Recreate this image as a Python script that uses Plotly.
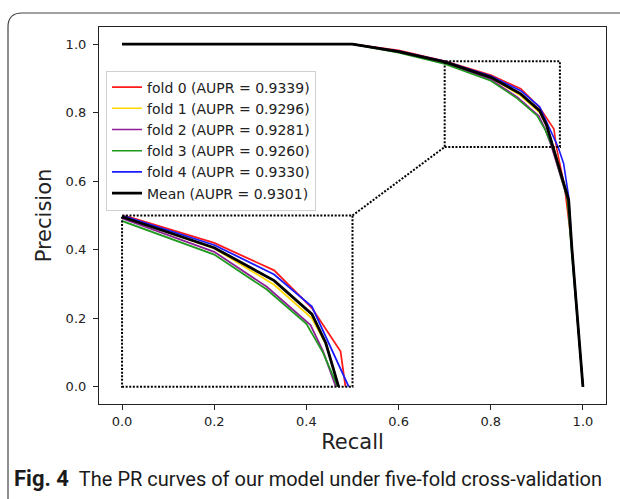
import plotly.graph_objects as go

# ---------------- data ----------------
fold_names = ["fold 0 (AUPR = 0.9339)", "fold 1 (AUPR = 0.9296)", "fold 2 (AUPR = 0.9281)",
              "fold 3 (AUPR = 0.9260)", "fold 4 (AUPR = 0.9330)"]
mean_name = "Mean (AUPR = 0.9301)"

recall_f0 = [0.0, 0.50, 0.60, 0.70, 0.80, 0.865, 0.906, 0.937, 0.9425, 0.960, 0.975, 1.0]
prec_f0 = [1.0, 1.0, 0.982, 0.951, 0.910, 0.870, 0.815, 0.752, 0.699, 0.585, 0.420, 0.0]

recall_f1 = [0.0, 0.50, 0.60, 0.70, 0.80, 0.865, 0.906, 0.922, 0.935, 0.968, 0.976, 1.0]
prec_f1 = [1.0, 1.0, 0.978, 0.948, 0.902, 0.849, 0.800, 0.760, 0.700, 0.550, 0.410, 0.0]

recall_f2 = [0.0, 0.50, 0.60, 0.70, 0.80, 0.857, 0.9045, 0.918, 0.932, 0.967, 0.976, 1.0]
prec_f2 = [1.0, 1.0, 0.977, 0.946, 0.897, 0.846, 0.790, 0.752, 0.700, 0.545, 0.400, 0.0]

recall_f3 = [0.0, 0.50, 0.60, 0.70, 0.80, 0.857, 0.900, 0.918, 0.934, 0.966, 0.975, 1.0]
prec_f3 = [1.0, 1.0, 0.975, 0.942, 0.893, 0.842, 0.792, 0.750, 0.700, 0.550, 0.400, 0.0]

recall_f4 = [0.0, 0.50, 0.60, 0.70, 0.80, 0.865, 0.906, 0.926, 0.946, 0.958, 0.969, 0.976, 1.0]
prec_f4 = [1.0, 1.0, 0.980, 0.950, 0.907, 0.864, 0.817, 0.759, 0.700, 0.652, 0.555, 0.404, 0.0]

recall_mean = [0.0, 0.50, 0.60, 0.70, 0.80, 0.865, 0.906, 0.921, 0.935, 0.969, 0.976, 1.0]
prec_mean = [1.0, 1.0, 0.978, 0.948, 0.903, 0.855, 0.806, 0.764, 0.700, 0.545, 0.404, 0.0]

tick_vals = [0.0, 0.2, 0.4, 0.6, 0.8, 1.0]
tick_text = ["0.0", "0.2", "0.4", "0.6", "0.8", "1.0"]

zoom_x = [0.70, 0.95]       # region magnified
zoom_y = [0.70, 0.95]
inset_x = [0.0, 0.5]        # where the inset sits (data coords of main axes)
inset_y = [0.0, 0.5]

caption_bold = "Fig. 4"
caption_text = "The PR curves of our model under five-fold cross-validation"

# ---------------- styling ----------------
colors = ["#ff1a1a", "#ffd700", "#8e1f96", "#1f9a1f", "#1a1aff"]
W, H = 620, 499
ML, MR, MT, MB = 99, 14, 27, 95
xr = [-0.05, 1.05]
yr = [-0.05, 1.05]

folds_r = [recall_f0, recall_f1, recall_f2, recall_f3, recall_f4]
folds_p = [prec_f0, prec_f1, prec_f2, prec_f3, prec_f4]

fig = go.Figure()

for r, p, c, n in zip(folds_r, folds_p, colors, fold_names):
    fig.add_trace(go.Scatter(x=r, y=p, mode="lines", name=n,
                             line=dict(color=c, width=1.6), xaxis="x", yaxis="y"))
fig.add_trace(go.Scatter(x=recall_mean, y=prec_mean, mode="lines", name=mean_name,
                         line=dict(color="black", width=2.8), xaxis="x", yaxis="y"))

# inset copies
for r, p, c, n in zip(folds_r, folds_p, colors, fold_names):
    fig.add_trace(go.Scatter(x=r, y=p, mode="lines", name=n, showlegend=False,
                             line=dict(color=c, width=1.8), xaxis="x2", yaxis="y2"))
fig.add_trace(go.Scatter(x=recall_mean, y=prec_mean, mode="lines", name=mean_name,
                         showlegend=False, line=dict(color="black", width=2.8),
                         xaxis="x2", yaxis="y2"))

def to_paper(v, rng):
    return (v - rng[0]) / (rng[1] - rng[0])

ix_dom = [to_paper(inset_x[0], xr), to_paper(inset_x[1], xr)]
iy_dom = [to_paper(inset_y[0], yr), to_paper(inset_y[1], yr)]

dot = dict(color="black", width=2, dash="2px,1.6px")
shapes = [
    dict(type="rect", xref="x", yref="y", x0=zoom_x[0], x1=zoom_x[1], y0=zoom_y[0], y1=zoom_y[1],
         line=dot, layer="above"),
    dict(type="rect", xref="x", yref="y", x0=inset_x[0], x1=inset_x[1], y0=inset_y[0], y1=inset_y[1],
         line=dot, layer="above"),
    dict(type="line", xref="x", yref="y", x0=inset_x[1], y0=inset_y[1], x1=zoom_x[0], y1=zoom_y[0],
         line=dot, layer="above"),
]

# outer rounded frame (page decoration), pixel -> paper
def px(xp):
    return (xp - ML) / (W - ML - MR)
def py(yp):
    return (H - MB - yp) / (H - MT - MB)

x0, y0, x1, y1, rad = 8, 13, 640, 512, 14
path = (f"M {px(x0)},{py(y0 + rad)} L {px(x0)},{py(y1 - rad)} "
        f"Q {px(x0)},{py(y1)} {px(x0 + rad)},{py(y1)} L {px(x1)},{py(y1)} "
        f"L {px(x1)},{py(y0)} L {px(x0 + rad)},{py(y0)} Q {px(x0)},{py(y0)} {px(x0)},{py(y0 + rad)} Z")
shapes.append(dict(type="path", xref="paper", yref="paper", path=path,
                   line=dict(color="#444444", width=1.2), layer="below"))

axis_common = dict(showline=True, mirror=True, linecolor="#222222", linewidth=1.2,
                   ticks="outside", ticklen=5, tickwidth=1, tickcolor="#222222",
                   showgrid=False, zeroline=False,
                   tickvals=tick_vals, ticktext=tick_text,
                   tickfont=dict(family="DejaVu Sans", size=13, color="#222222"))

fig.update_layout(
    width=W, height=H,
    margin=dict(l=ML, r=MR, t=MT, b=MB),
    paper_bgcolor="white", plot_bgcolor="white",
    showlegend=True,
    xaxis=dict(range=xr, domain=[0, 1], **axis_common,
               title=dict(text="Recall", font=dict(family="DejaVu Sans", size=21, color="#222222"),
                          standoff=6)),
    yaxis=dict(range=yr, domain=[0, 1], **axis_common, ticklabelstandoff=4,
               title=dict(text="Precision", font=dict(family="DejaVu Sans", size=21, color="#222222"),
                          standoff=8)),
    xaxis2=dict(range=zoom_x, domain=ix_dom, anchor="y2", visible=False),
    yaxis2=dict(range=zoom_y, domain=iy_dom, anchor="x2", visible=False),
    legend=dict(x=px(106), y=py(70.5), xanchor="left", yanchor="top",
                bgcolor="white", bordercolor="#d0d0d0", borderwidth=1,
                font=dict(family="DejaVu Sans", size=14, color="#222222"),
                tracegroupgap=0),
    shapes=shapes,
    annotations=[dict(xref="paper", yref="paper", x=px(12), y=py(478), xanchor="left",
                      yanchor="middle", showarrow=False,
                      text=f"<b><span style='font-size:22px'>{caption_bold}</span></b>&nbsp;&nbsp;{caption_text}",
                      font=dict(family="Roboto", size=20, color="#1a1a1a"))],
)

fig.write_html("out.html")
